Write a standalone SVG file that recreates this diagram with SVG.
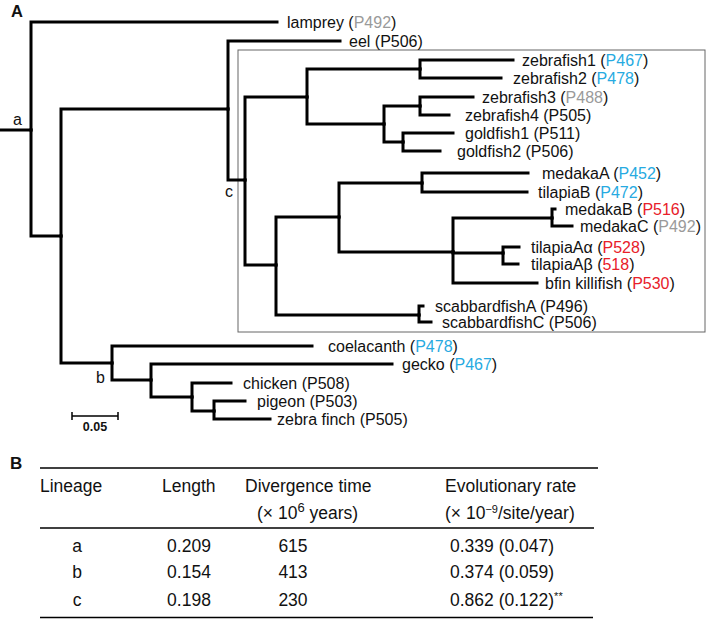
<svg xmlns="http://www.w3.org/2000/svg" width="709" height="619" viewBox="0 0 709 619">
<style>
text{font-family:"Liberation Sans",Arial,sans-serif;fill:#111}
.lf{font-size:16px}
.tb{font-size:17.5px}
.bold{font-weight:bold}
.bl{fill:#27aae1}
.gr{fill:#9a9a9a}
.rd{fill:#e8202a}
.br{fill:none;stroke:#000;stroke-width:3;stroke-linecap:square;stroke-linejoin:miter}
.rule{stroke:#000;stroke-width:1.6}
</style>
<rect width="709" height="619" fill="#fff"/>
<text class="bold" x="11" y="17" font-size="16.5">A</text>
<text class="bold" x="10" y="469" font-size="17">B</text>
<rect id="box-c" x="238" y="50" width="467" height="282" fill="none" stroke="#666" stroke-width="1"/>
<g id="connectors" class="br">
<path d="M0,130 H31"/>
<path d="M31,130 V22 H277"/>
<path d="M31,130 V236 H61"/>
<path d="M61,236 V109 H228"/>
<path d="M61,236 V363 H112"/>
<path d="M228,109 V41 H340"/>
<path d="M228,109 V180 H245"/>
<path d="M245,180 V97 H307"/>
<path d="M245,180 V265 H276"/>
<path d="M307,97 V69 H420"/>
<path d="M307,97 V124 H384"/>
<path d="M420,69 V60 H513"/>
<path d="M420,69 V78 H501"/>
<path d="M384,124 V106 H420"/>
<path d="M384,124 V142 H403"/>
<path d="M420,106 V97 H473"/>
<path d="M420,106 V115 H449"/>
<path d="M403,142 V133 H453"/>
<path d="M403,142 V151 H440"/>
<path d="M276,265 V217 H339"/>
<path d="M276,265 V315 H419"/>
<path d="M339,217 V183 H422"/>
<path d="M339,217 V252 H453"/>
<path d="M422,183 V173 H528"/>
<path d="M422,183 V192 H527"/>
<path d="M453,252 V218 H552"/>
<path d="M453,252 V253 H503"/>
<path d="M453,252 V283 H537"/>
<path d="M552,218 V209 H555"/>
<path d="M552,218 V226 H572"/>
<path d="M503,253 V247 H519"/>
<path d="M503,253 V264 H518"/>
<path d="M419,315 V306 H423"/>
<path d="M419,315 V322 H431"/>
<path d="M112,363 V346 H312"/>
<path d="M112,363 V380 H151"/>
<path d="M151,380 V364 H392"/>
<path d="M151,380 V397 H192"/>
<path d="M192,397 V383 H231"/>
<path d="M192,397 V411 H214"/>
<path d="M214,411 V401 H245"/>
<path d="M214,411 V419 H270"/>
</g>
<g id="node-labels" class="lf">
<text x="13" y="125">a</text>
<text x="96" y="383">b</text>
<text x="225" y="197">c</text>
</g>
<g id="leaves" class="lf">
<g id="lamprey"><text x="287" y="27.5">lamprey (<tspan class="gr">P492</tspan>)</text></g>
<g id="eel"><text x="349" y="46.5">eel (P506)</text></g>
<g id="zebrafish1"><text x="522" y="65.5">zebrafish1 (<tspan class="bl">P467</tspan>)</text></g>
<g id="zebrafish2"><text x="513" y="83.5">zebrafish2 (<tspan class="bl">P478</tspan>)</text></g>
<g id="zebrafish3"><text x="482" y="102.5">zebrafish3 (<tspan class="gr">P488</tspan>)</text></g>
<g id="zebrafish4"><text x="465" y="120.5">zebrafish4 (P505)</text></g>
<g id="goldfish1"><text x="465" y="138.5">goldfish1 (P511)</text></g>
<g id="goldfish2"><text x="457" y="156.5">goldfish2 (P506)</text></g>
<g id="medakaA"><text x="542" y="178.5">medakaA (<tspan class="bl">P452</tspan>)</text></g>
<g id="tilapiaB"><text x="538" y="197.5">tilapiaB (<tspan class="bl">P472</tspan>)</text></g>
<g id="medakaB"><text x="565" y="214.5">medakaB (<tspan class="rd">P516</tspan>)</text></g>
<g id="medakaC"><text x="580" y="231.5">medakaC (<tspan class="gr">P492</tspan>)</text></g>
<g id="tilapiaAa"><text x="531" y="252.5">tilapiaAα (<tspan class="rd">P528</tspan>)</text></g>
<g id="tilapiaAb"><text x="531" y="269.5">tilapiaAβ (<tspan class="rd">518</tspan>)</text></g>
<g id="bfin"><text x="545" y="288.5">bfin killifish (<tspan class="rd">P530</tspan>)</text></g>
<g id="scabbardfishA"><text x="435" y="311.5">scabbardfishA (P496)</text></g>
<g id="scabbardfishC"><text x="442" y="327.5">scabbardfishC (P506)</text></g>
<g id="coelacanth"><text x="328" y="351.5">coelacanth (<tspan class="bl">P478</tspan>)</text></g>
<g id="gecko"><text x="402" y="369.5">gecko (<tspan class="bl">P467</tspan>)</text></g>
<g id="chicken"><text x="243" y="388.5">chicken (P508)</text></g>
<g id="pigeon"><text x="257" y="406.5">pigeon (P503)</text></g>
<g id="zebrafinch"><text x="277" y="424.5">zebra finch (P505)</text></g>
</g>
<g id="scalebar">
<path d="M72,416 H118 M72,412 V420 M118,412 V420" stroke="#000" stroke-width="1.5" fill="none"/>
<text class="bold" x="95" y="431" font-size="12.5" text-anchor="middle">0.05</text>
</g>
<g id="table">
<line class="rule" x1="40" y1="468" x2="598" y2="468"/>
<line class="rule" x1="40" y1="528" x2="594" y2="528"/>
<line class="rule" x1="40" y1="617.5" x2="593" y2="617.5"/>
<g class="tb">
<text x="40" y="492">Lineage</text>
<text x="162" y="492">Length</text>
<text x="245" y="492">Divergence time</text>
<text x="445" y="492">Evolutionary rate</text>
<text x="257" y="519">(× 10<tspan font-size="13" dy="-7">6</tspan><tspan dy="7"> years)</tspan></text>
<text x="445" y="519">(× 10<tspan font-size="11" dy="-6">−9</tspan><tspan dy="6">/site/year)</tspan></text>
<text x="77" y="552" text-anchor="middle">a</text>
<text x="189" y="552" text-anchor="middle">0.209</text>
<text x="293" y="552" text-anchor="middle">615</text>
<text x="450" y="552">0.339 (0.047)</text>
<text x="77" y="578" text-anchor="middle">b</text>
<text x="189" y="578" text-anchor="middle">0.154</text>
<text x="293" y="578" text-anchor="middle">413</text>
<text x="450" y="578">0.374 (0.059)</text>
<text x="77" y="606" text-anchor="middle">c</text>
<text x="189" y="606" text-anchor="middle">0.198</text>
<text x="293" y="606" text-anchor="middle">230</text>
<text x="450" y="606">0.862 (0.122)<tspan font-size="11" dy="-6">**</tspan></text>
</g>
</g>
</svg>
